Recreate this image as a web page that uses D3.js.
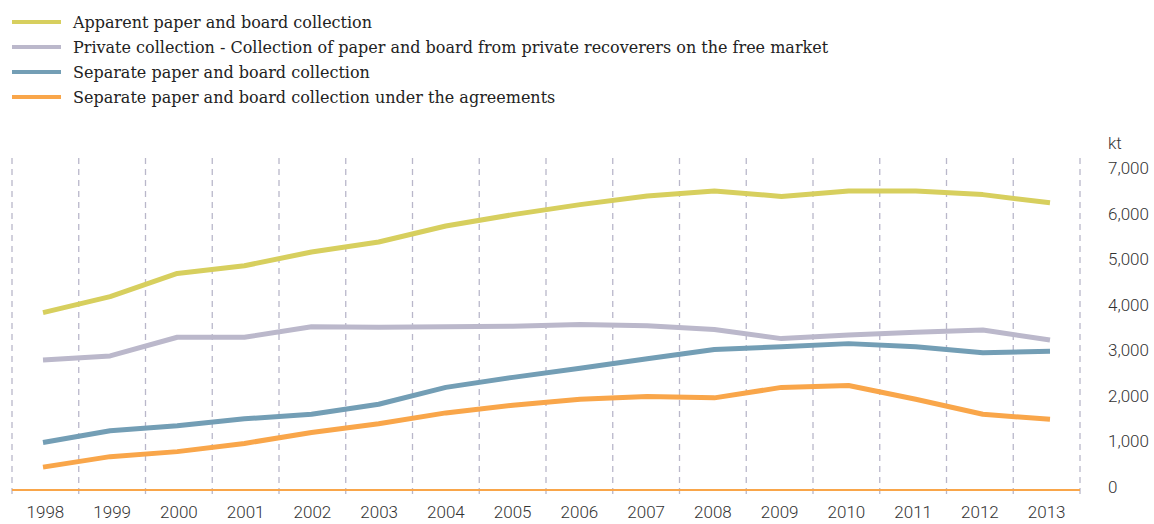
<!DOCTYPE html>
<html>
<head>
<meta charset="utf-8">
<script src="https://cdn.jsdelivr.net/npm/d3@7"></script>
<style>
  html, body { margin: 0; padding: 0; background: #fff; }
  svg { display: block; }
</style>
</head>
<body>
<svg id="chart" width="1154" height="524"></svg>
<script>
// Paper and board collection, thousand tonnes (kt)
const years = [1998, 1999, 2000, 2001, 2002, 2003, 2004, 2005, 2006, 2007, 2008, 2009, 2010, 2011, 2012, 2013];

const apparentCollection  = [3870, 4220, 4730, 4900, 5200, 5420, 5770, 6020, 6240, 6430, 6540, 6420, 6540, 6540, 6460, 6280];
const privateCollection   = [2830, 2920, 3330, 3330, 3560, 3550, 3560, 3570, 3610, 3580, 3500, 3300, 3380, 3440, 3490, 3270];
const separateCollection  = [1020, 1280, 1390, 1540, 1640, 1860, 2230, 2450, 2650, 2860, 3060, 3120, 3190, 3120, 2990, 3020];
const agreementCollection = [480, 710, 820, 1000, 1240, 1430, 1670, 1840, 1970, 2030, 2000, 2230, 2270, 1970, 1640, 1530];

const yTicks = [0, 1000, 2000, 3000, 4000, 5000, 6000, 7000];
const unitLabel = "kt";

const series = [
  { name: "Apparent paper and board collection", values: apparentCollection, color: "#d7cf5e" },
  { name: "Private collection - Collection of paper and board from private recoverers on the free market", values: privateCollection, color: "#bbb8cb" },
  { name: "Separate paper and board collection", values: separateCollection, color: "#739eb5" },
  { name: "Separate paper and board collection under the agreements", values: agreementCollection, color: "#f9a64a" }
];

const svg = d3.select("#chart");

// Scales
const xBand = d3.scaleBand().domain(years).range([12, 1080]).padding(0);
const xPoint = d3.scalePoint().domain(years).range([43, 1050]);
const y = d3.scaleLinear().domain([0, 7000]).range([489, 170]);

// Vertical dashed separators between years
const gridX = years.map(yr => xBand(yr)).concat([xBand.range()[1]]);
svg.append("g")
  .selectAll("line")
  .data(gridX)
  .join("line")
  .attr("x1", d => d).attr("x2", d => d)
  .attr("y1", 158).attr("y2", 497)
  .attr("stroke", "#b9b7ca")
  .attr("stroke-width", 1.3)
  .attr("stroke-dasharray", "6,5");

// Baseline
svg.append("line")
  .attr("x1", 12).attr("x2", 1080)
  .attr("y1", y(0) + 1).attr("y2", y(0) + 1)
  .attr("stroke", "#f9a64a")
  .attr("stroke-width", 2.2);

// X axis labels
const xAxis = d3.axisBottom(xBand).tickSize(0).tickPadding(0);
const gx = svg.append("g").attr("transform", "translate(0,506)").call(xAxis);
gx.select(".domain").remove();
gx.selectAll("text")
  .attr("dy", "0.71em")
  .attr("font-family", "Roboto, sans-serif")
  .attr("font-weight", 300)
  .attr("font-size", 17)
  .attr("fill", "#333");

// Y axis labels on the right
const yAxis = d3.axisRight(y).tickValues(yTicks).tickSize(0).tickPadding(0)
  .tickFormat(d3.format(","));
const gy = svg.append("g").attr("transform", "translate(1108,-2)").call(yAxis);
gy.select(".domain").remove();
gy.selectAll("text")
  .attr("font-family", "Roboto, sans-serif")
  .attr("font-weight", 300)
  .attr("font-size", 17)
  .attr("fill", "#333");

svg.append("text")
  .attr("x", 1108).attr("y", 149)
  .attr("font-family", "Roboto, sans-serif")
  .attr("font-weight", 300)
  .attr("font-size", 17)
  .attr("fill", "#333")
  .text(unitLabel);

// Series lines
const line = d3.line()
  .x((d, i) => xPoint(years[i]))
  .y(d => y(d));

svg.append("g")
  .selectAll("path")
  .data(series)
  .join("path")
  .attr("d", d => line(d.values))
  .attr("fill", "none")
  .attr("stroke", d => d.color)
  .attr("stroke-width", 5)
  .attr("stroke-linejoin", "round");

// Legend
const legend = svg.append("g")
  .selectAll("g")
  .data(series)
  .join("g")
  .attr("transform", (d, i) => `translate(0,${22 + i * 25})`);

legend.append("line")
  .attr("x1", 12).attr("x2", 61)
  .attr("stroke", d => d.color)
  .attr("stroke-width", 4);

legend.append("text")
  .attr("x", 73)
  .attr("y", 5.5)
  .attr("font-family", "'DejaVu Serif', serif")
  .attr("font-size", 16)
  .attr("fill", "#222")
  .text(d => d.name);
</script>
</body>
</html>
